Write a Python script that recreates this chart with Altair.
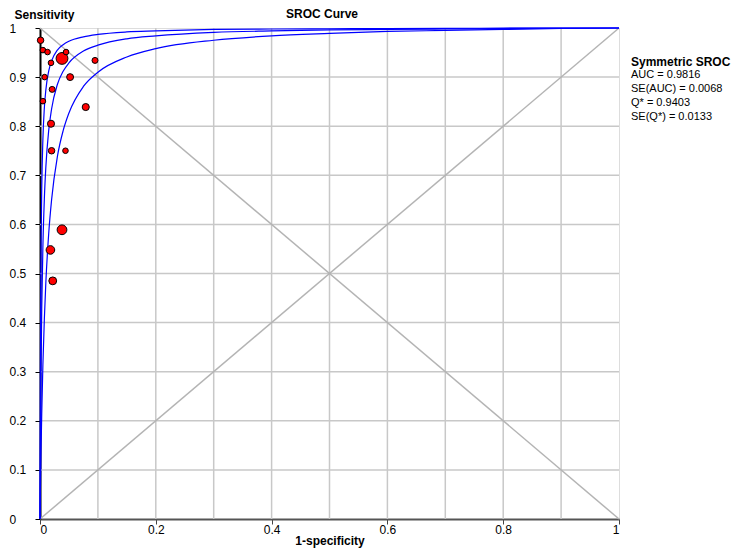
import altair as alt
import pandas as pd

# ---- study points (1-specificity, sensitivity, relative weight) ----
fpr = [0.001, 0.005, 0.013, 0.019, 0.038, 0.045, 0.095, 0.008, 0.052,
       0.021, 0.005, 0.079, 0.019, 0.020, 0.044, 0.038, 0.018, 0.022]
tpr = [0.975, 0.955, 0.951, 0.929, 0.938, 0.951, 0.934, 0.900, 0.900,
       0.875, 0.851, 0.839, 0.805, 0.750, 0.750, 0.589, 0.548, 0.485]
weight = [3.8, 2.8, 2.8, 2.8, 12.5, 2.8, 3.2, 2.8, 4.3,
          3.2, 2.8, 4.5, 4.5, 3.8, 2.8, 8.5, 6.6, 5.5]

# ---- SROC curve and its bounds ----
curve_x = [0, 0.0005, 0.001, 0.002, 0.003, 0.005, 0.0075, 0.01, 0.015, 0.02,
           0.03, 0.04, 0.05, 0.075, 0.1, 0.15, 0.2, 0.3, 0.4, 0.5, 0.6,
           0.7, 0.8, 0.9, 1.0]
curve_mid = [0, 0.110, 0.199, 0.332, 0.428, 0.555, 0.652, 0.715, 0.791, 0.835,
             0.885, 0.912, 0.929, 0.953, 0.965, 0.978, 0.984, 0.991, 0.994,
             0.996, 0.997, 0.998, 0.999, 0.9996, 1.0]
curve_lo = [0, 0.044, 0.083, 0.154, 0.215, 0.314, 0.407, 0.479, 0.581, 0.650,
            0.738, 0.791, 0.827, 0.881, 0.910, 0.941, 0.958, 0.975, 0.984,
            0.989, 0.993, 0.995, 0.997, 0.999, 1.0]
curve_hi = [0, 0.254, 0.405, 0.577, 0.672, 0.774, 0.837, 0.873, 0.912, 0.933,
            0.955, 0.966, 0.973, 0.982, 0.987, 0.992, 0.994, 0.997, 0.998,
            0.9985, 0.999, 0.9994, 0.9996, 0.9998, 1.0]

grid_vals = [0.1, 0.2, 0.3, 0.4, 0.5, 0.6, 0.7, 0.8, 0.9]
x_ticks = [0, 0.2, 0.4, 0.6, 0.8, 1]
y_ticks = [0, 0.1, 0.2, 0.3, 0.4, 0.5, 0.6, 0.7, 0.8, 0.9, 1]

chart_title = "SROC Curve"
stats_title = "Symmetric SROC"
stats_lines = ["AUC = 0.9816", "SE(AUC) = 0.0068", "Q* = 0.9403", "SE(Q*) = 0.0133"]

FONT = "Liberation Sans"

pts = pd.DataFrame({"x": fpr, "y": tpr, "w": weight})
curves = pd.concat([
    pd.DataFrame({"x": curve_x, "y": curve_lo, "band": "lo"}),
    pd.DataFrame({"x": curve_x, "y": curve_mid, "band": "mid"}),
    pd.DataFrame({"x": curve_x, "y": curve_hi, "band": "hi"}),
])
grid = pd.DataFrame({"v": grid_vals})
diag = pd.DataFrame({"x": [0, 0], "y": [0, 1], "x2": [1, 1], "y2": [1, 0]})

xs = alt.Scale(domain=[0, 1], nice=False, zero=False)
ys = alt.Scale(domain=[0, 1], nice=False, zero=False)

x_axis = alt.Axis(values=x_ticks, format="~g", grid=False, tickSize=5,
                  tickColor="#444", domainColor="#555", domainWidth=2,
                  labelFont=FONT, labelFontSize=12, labelColor="#000",
                  labelPadding=0, title="1-specificity", titleFont=FONT,
                  titleFontSize=12, titleFontWeight="bold", titleColor="#000",
                  titlePadding=0)
y_axis = alt.Axis(values=y_ticks, format="~g", grid=False, tickSize=5,
                  tickColor="#000", domainColor="#000", domainWidth=2,
                  labelFont=FONT, labelFontSize=12, labelColor="#000",
                  labelAlign="left", labelPadding=26,
                  title="Sensitivity", titleAngle=0, titleX=-26, titleY=-14,
                  titleAlign="left", titleBaseline="middle", titleFont=FONT,
                  titleFontSize=12, titleFontWeight="bold", titleColor="#000")

vgrid = alt.Chart(grid).mark_rule(color="#c8c8c8", strokeWidth=1.5).encode(
    x=alt.X("v:Q", scale=xs, axis=x_axis))
hgrid = alt.Chart(grid).mark_rule(color="#c8c8c8", strokeWidth=1.5).encode(
    y=alt.Y("v:Q", scale=ys, axis=y_axis))
diags = alt.Chart(diag).mark_rule(color="#b4b4b4", strokeWidth=1.5).encode(
    x=alt.X("x:Q", scale=xs), y=alt.Y("y:Q", scale=ys), x2="x2:Q", y2="y2:Q")
lines = alt.Chart(curves).mark_line(color="#0000ff", strokeWidth=1.2,
                                    interpolate="monotone").encode(
    x=alt.X("x:Q", scale=xs), y=alt.Y("y:Q", scale=ys), detail="band:N",
    order="x:Q")
points = alt.Chart(pts).mark_circle(color="#ff0000", opacity=1, stroke="#000",
                                    strokeWidth=1).encode(
    x=alt.X("x:Q", scale=xs), y=alt.Y("y:Q", scale=ys),
    size=alt.Size("w:Q", scale=alt.Scale(domain=[0, 12.5], range=[0, 140]),
                  legend=None))
title_txt = alt.Chart(pd.DataFrame({"t": [chart_title]})).mark_text(
    align="center", baseline="middle", font=FONT, fontSize=12, fontWeight="bold",
    color="#000").encode(text="t:N", x=alt.value(282), y=alt.value(-14))
head = alt.Chart(pd.DataFrame({"t": [stats_title]})).mark_text(
    align="left", baseline="middle", font=FONT, fontSize=12, fontWeight="bold",
    color="#000").encode(text="t:N", x=alt.value(591), y=alt.value(34))
body = alt.Chart(pd.DataFrame({"t": ["\n".join(stats_lines)]})).mark_text(
    align="left", baseline="middle", font=FONT, fontSize=11, color="#000",
    lineBreak="\n", lineHeight=14).encode(text="t:N", x=alt.value(591),
                                          y=alt.value(47))

chart = alt.layer(vgrid, hgrid, diags, lines, points, title_txt, head, body).properties(
    width=579, height=491,
    padding={"left": 32, "top": 20, "right": 112, "bottom": 30},
    autosize=alt.AutoSizeParams(type="none"),
).configure_view(stroke="#666", strokeWidth=2).configure(background="white")

chart.save("out.html", embed_options={"renderer": "svg", "actions": False})
